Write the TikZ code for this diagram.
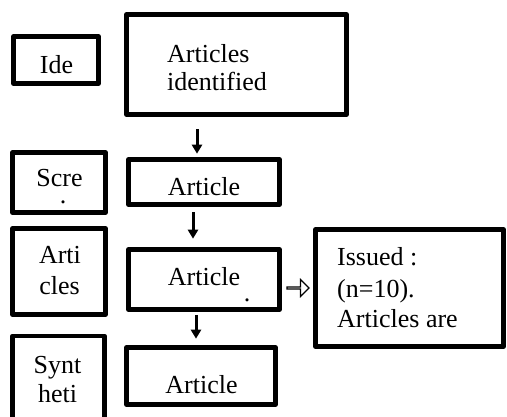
\documentclass[tikz,border=0pt]{standalone}
\usepackage{fontspec}
\setmainfont{Liberation Serif}
\usepackage{tikz}
\usetikzlibrary{calc,arrows.meta,shapes.arrows}
\tikzset{
  box/.style={draw=black, line width=4.6pt, line join=round, inner sep=0pt},
  lab/.style={font=\fontsize{26}{30}\selectfont, inner sep=0pt},
  flow/.style={draw=black, line width=3pt, -{Triangle[length=9pt,width=10pt]}},
  hollow/.style={single arrow, draw=black, line width=1.2pt, inner sep=0pt,
    minimum height=22pt, minimum width=17pt, single arrow head extend=4.5pt,
    single arrow head indent=0pt},
}

\begin{document}
\begin{tikzpicture}[x=1pt, y=1pt]
  \clip (0,0) rectangle (507,-416);

  % stage boxes on the left
  \node[box, minimum width=85pt, minimum height=47pt] (ide) at (56,-60) {};
  \node[box, minimum width=93pt, minimum height=60pt] (scre) at (59,-182.5) {};
  \node[box, minimum width=93pt, minimum height=86pt] (arti) at (59,-271.5) {};
  \node[box, minimum width=92pt, minimum height=94pt] (synt) at (58.5,-383) {};

  \node[lab, anchor=base] (tide) at (56.5,-73) {Ide};
  \node[lab, anchor=base] (tscre) at (59.5,-186) {Scre};
  \node[lab, anchor=base] (dscre) at (63,-203) {.};
  \node[lab, anchor=base] (tarti) at (60,-263) {Arti};
  \node[lab, anchor=base] (tcles) at (59.5,-294) {cles};
  \node[lab, anchor=base] (tsynt) at (57.5,-373) {Synt};
  \node[lab, anchor=base] (theti) at (57.5,-402) {heti};

  % main column
  \node[box, minimum width=220pt, minimum height=100pt] (top) at (236.5,-64.5) {};
  \node[box, minimum width=151pt, minimum height=45pt] (art1) at (204,-182) {};
  \node[box, minimum width=151pt, minimum height=60pt] (art2) at (204,-279.5) {};
  \node[box, minimum width=149pt, minimum height=57pt] (art3) at (201,-376) {};

  \node[lab, anchor=base west] (ttop1) at (167,-62) {Articles};
  \node[lab, anchor=base west] (ttop2) at (167,-90) {identified};
  \node[lab, anchor=base] (tart1) at (204,-195) {Article};
  \node[lab, anchor=base] (tart2) at (204,-285) {Article};
  \node[lab, anchor=base] (dart2) at (247,-301) {.};
  \node[lab, anchor=base] (tart3) at (201.5,-393) {Article};

  % excluded articles
  \node[box, minimum width=188pt, minimum height=117pt] (issued) at (409.5,-288) {};
  \node[lab, anchor=base west] (tiss1) at (337,-265) {Issued :};
  \node[lab, anchor=base west] (tiss2) at (337,-297) {(n=10).};
  \node[lab, anchor=base west] (tiss3) at (337,-327) {Articles are};

  % arrows
  \coordinate (a1) at ($(art1.north)+(-7,0)$);
  \coordinate (a2) at ($(art1.south)+(-11,0)$);
  \coordinate (a3) at ($(art2.south)+(-8,0)$);
  \draw[flow, shorten <=12.5pt, shorten >=3.5pt] (a1 |- top.south) -- (a1);
  \draw[flow, shorten <=5.5pt, shorten >=8.5pt] (a2) -- (a2 |- art2.north);
  \draw[flow, shorten <=3pt, shorten >=6.5pt] (a3) -- (a3 |- art3.north);
  \node[hollow] (imp) at ($(art2.east)!0.5!(issued.west |- art2.east)+(0,-8.5)$) {};

\end{tikzpicture}
\end{document}
